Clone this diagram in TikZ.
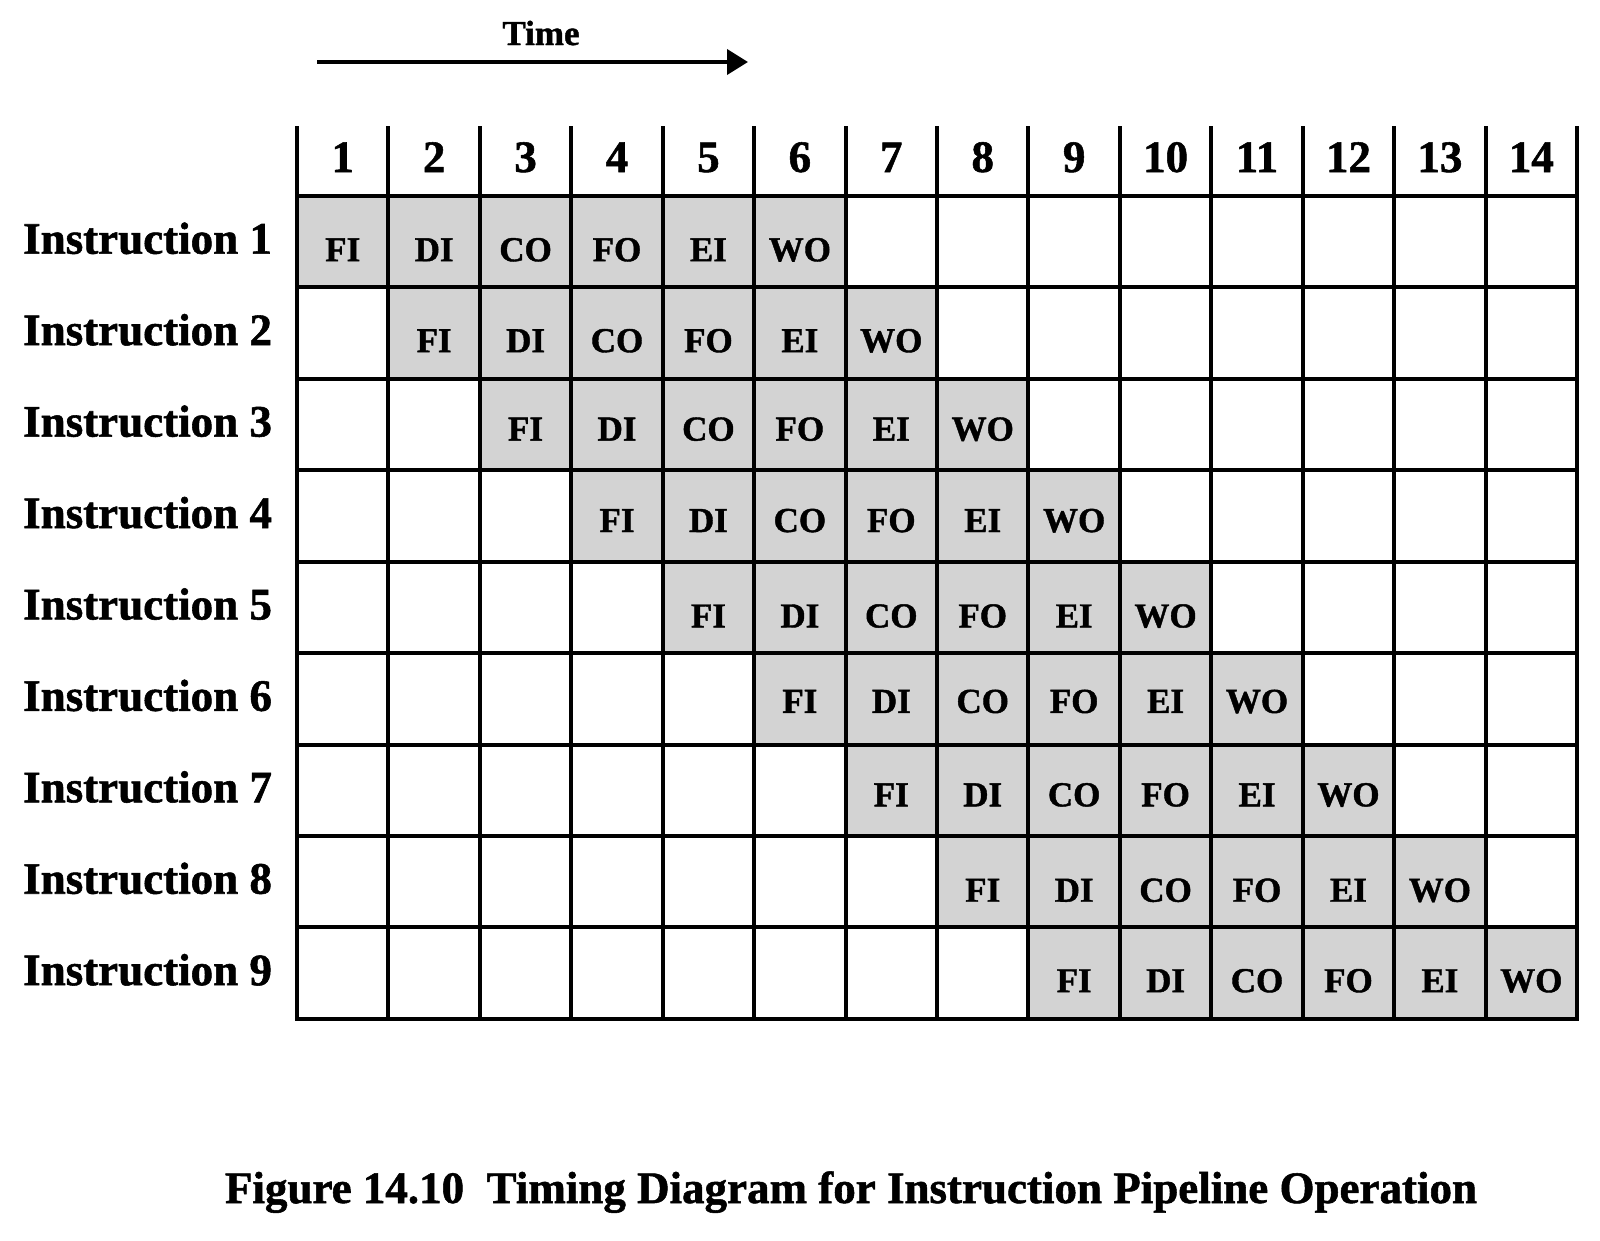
\documentclass[tikz,border=0pt]{standalone}
\usepackage{fontspec}
\setmainfont{Liberation Serif}[BoldFeatures={FakeBold=1.2}]
\usetikzlibrary{arrows.meta}
\definecolor{cellgray}{HTML}{D3D3D3}
\tikzset{
  gridline/.style={line width=4pt, line cap=rect, black},
  stagebox/.style={fill=cellgray, draw=none, minimum width=91.43pt, minimum height=91.43pt, inner sep=0pt, outer sep=0pt, anchor=north west},
  stagetext/.style={font=\fontsize{35}{40}\selectfont\bfseries, inner sep=0pt, anchor=base},
  rowlabel/.style={font=\fontsize{45}{50}\selectfont\bfseries, inner sep=0pt, anchor=base west},
  colnum/.style={font=\fontsize{45}{50}\selectfont\bfseries, inner sep=0pt, anchor=base},
  timelabel/.style={font=\fontsize{35}{40}\selectfont\bfseries, inner sep=0pt, anchor=base},
  captionlabel/.style={font=\fontsize{45}{50}\selectfont\bfseries, inner sep=0pt, anchor=base},
  timearrow/.style={line width=4pt, -{Triangle[length=21pt,width=25pt]}}
}
\begin{document}
\begin{tikzpicture}[x=1pt,y=-1pt]
\useasboundingbox (0,0) rectangle (1600,1240);
\def\cw{91.43}
% gray stage cells
\foreach \i in {1,...,9} {
  \foreach \st [count=\s from 0] in {FI,DI,CO,FO,EI,WO} {
    \node[stagebox] (box-\i-\s) at ({297+(\i+\s-1)*\cw},{196+(\i-1)*\cw}) {};
  }
}
% grid lines
\foreach \k in {0,...,14} {
  \draw[gridline] ({297+\k*\cw},128) -- ({297+\k*\cw},1019);
}
\foreach \r in {0,...,9} {
  \draw[gridline] (297,{196+\r*\cw}) -- (1577,{196+\r*\cw});
}
% stage labels
\foreach \i/\off in {1/19.5,2/19,3/16,4/16,5/20,6/14,7/16,8/20,9/19} {
  \foreach \st [count=\s from 0] in {FI,DI,CO,FO,EI,WO} {
    \node[stagetext] (lab-\i-\s) at ({297+(\i+\s-0.5)*\cw},{196+(\i-0.5)*\cw+\off}) {\st};
  }
}
% column numbers
\foreach \k in {1,...,14} {
  \node[colnum] (num-\k) at ({297+(\k-0.5)*\cw},172) {\k};
}
% row labels
\foreach \i in {1,...,9} {
  \node[rowlabel] (ins-\i) at (23,{196+(\i-0.5)*\cw+12}) {Instruction \i};
}
% time arrow
\node[timelabel] (time) at (541,45) {Time};
\coordinate (tstart) at (317,62);
\coordinate (tend) at (748,62);
\draw[timearrow] (tstart) -- (tend);
% caption
\node[captionlabel] (caption) at (851,1203) {Figure 14.10\ \ Timing Diagram for Instruction Pipeline Operation};
\end{tikzpicture}
\end{document}
